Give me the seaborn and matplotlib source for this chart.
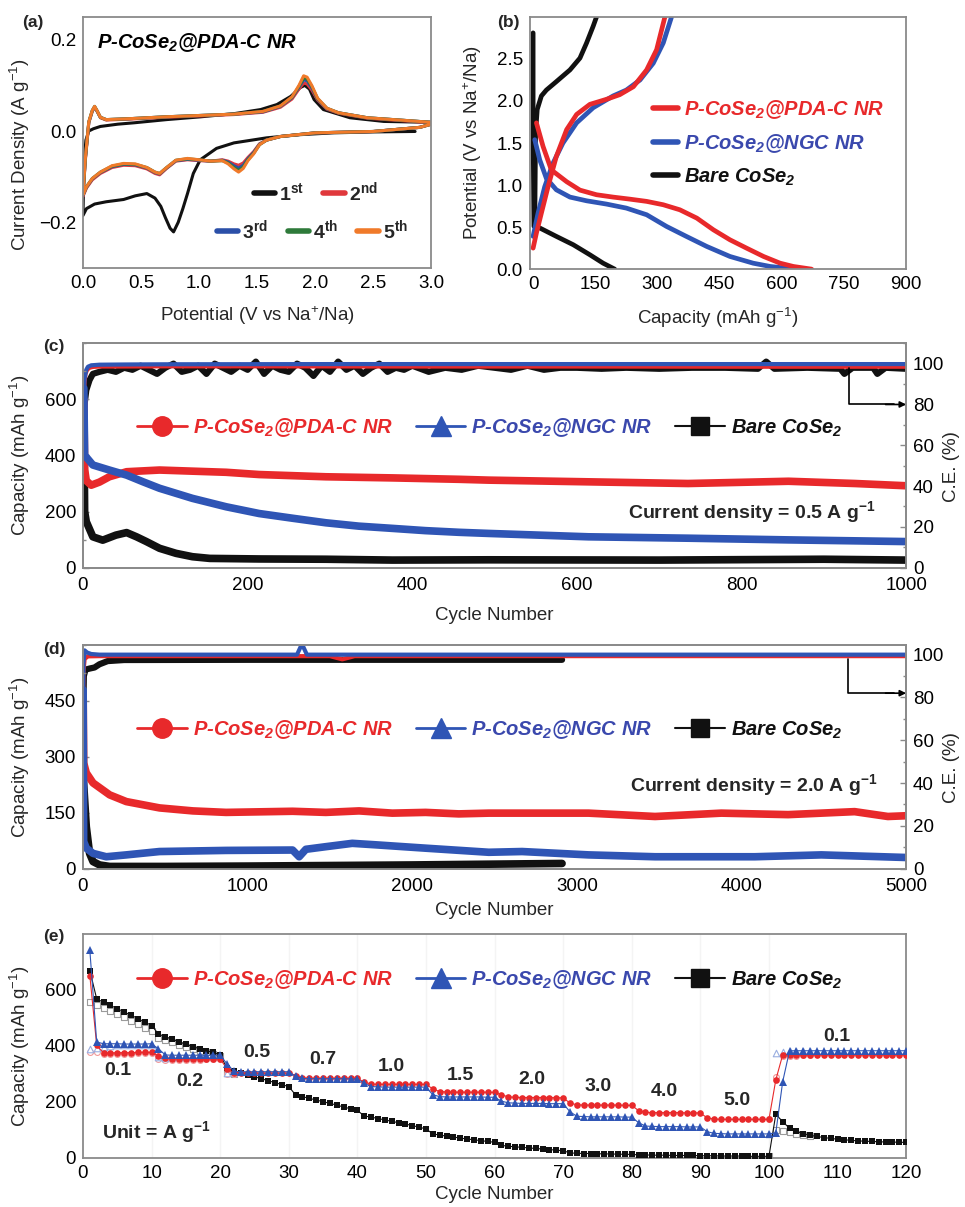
import matplotlib
matplotlib.use('Agg')
import numpy as np
import pandas as pd
import matplotlib.pyplot as plt
import seaborn as sns
from matplotlib.lines import Line2D
from matplotlib.ticker import MultipleLocator

# ---------------- data ----------------
# (a) CV curves, P-CoSe2@PDA-C NR
cv1_E = [2.86, 2.5, 2.16, 1.87, 1.58, 1.3, 1.15, 1.01, 0.95, 0.90,
         0.86, 0.82, 0.78, 0.75, 0.71, 0.67, 0.62, 0.55, 0.45, 0.35,
         0.2, 0.1, 0.03, 0.0, 0.005, 0.015, 0.025, 0.05, 0.09, 0.15,
         0.3, 0.44, 0.72, 1.01, 1.3, 1.53, 1.67, 1.79, 1.87, 1.91,
         1.95, 1.99, 2.07, 2.3, 2.59, 3.0]
cv1_I = [-0.001, -0.002, -0.004, -0.008, -0.015, -0.026, -0.038, -0.063, -0.093, -0.137,
         -0.17, -0.2, -0.221, -0.213, -0.19, -0.165, -0.147, -0.137, -0.142, -0.15,
         -0.155, -0.16, -0.17, -0.185, -0.115, -0.05, -0.02, 0.0, 0.005, 0.01,
         0.015, 0.018, 0.025, 0.031, 0.038, 0.047, 0.058, 0.076, 0.095, 0.1,
         0.092, 0.069, 0.047, 0.029, 0.021, 0.019]
cv_E = [3.0, 2.9, 2.5, 2.0, 1.7, 1.58, 1.52, 1.47, 1.42, 1.38,
        1.34, 1.30, 1.25, 1.2, 1.1, 1.0, 0.9, 0.8, 0.72, 0.66,
        0.62, 0.55, 0.45, 0.35, 0.25, 0.15, 0.08, 0.03, 0.0, 0.02,
        0.05, 0.08, 0.1, 0.12, 0.15, 0.2, 0.4, 0.7, 1.0, 1.3,
        1.55, 1.7, 1.8, 1.86, 1.9, 1.93, 1.97, 2.02, 2.1, 2.2,
        2.45, 2.73, 3.0]
cv2_I = [0.015, 0.008, -0.001, -0.004, -0.012, -0.02, -0.028, -0.045, -0.058, -0.07,
         -0.075, -0.072, -0.066, -0.063, -0.066, -0.065, -0.063, -0.066, -0.082, -0.096,
         -0.093, -0.083, -0.076, -0.075, -0.08, -0.093, -0.107, -0.125, -0.143, -0.065,
         0.018, 0.043, 0.052, 0.044, 0.029, 0.024, 0.026, 0.03, 0.033, 0.036,
         0.041, 0.052, 0.07, 0.092, 0.105, 0.103, 0.09, 0.068, 0.048, 0.039,
         0.028, 0.023, 0.018]
cv3_I = [0.015, 0.008, -0.001, -0.004, -0.012, -0.02, -0.029, -0.047, -0.061, -0.075,
         -0.081, -0.076, -0.068, -0.064, -0.066, -0.064, -0.062, -0.065, -0.081, -0.094,
         -0.091, -0.081, -0.074, -0.073, -0.078, -0.091, -0.105, -0.123, -0.141, -0.062,
         0.019, 0.044, 0.053, 0.044, 0.03, 0.025, 0.027, 0.031, 0.034, 0.037,
         0.042, 0.054, 0.073, 0.096, 0.112, 0.11, 0.095, 0.07, 0.049, 0.04,
         0.029, 0.024, 0.019]
cv4_I = [0.015, 0.008, -0.001, -0.004, -0.012, -0.02, -0.03, -0.049, -0.063, -0.079,
         -0.086, -0.08, -0.07, -0.065, -0.066, -0.063, -0.061, -0.064, -0.08, -0.093,
         -0.09, -0.08, -0.073, -0.072, -0.077, -0.09, -0.104, -0.122, -0.14, -0.061,
         0.02, 0.045, 0.054, 0.045, 0.03, 0.025, 0.027, 0.031, 0.034, 0.037,
         0.043, 0.055, 0.074, 0.098, 0.116, 0.114, 0.098, 0.071, 0.05, 0.04,
         0.029, 0.024, 0.019]
cv5_I = [0.015, 0.008, -0.001, -0.004, -0.012, -0.02, -0.03, -0.05, -0.065, -0.082,
         -0.09, -0.083, -0.072, -0.065, -0.066, -0.063, -0.06, -0.064, -0.08, -0.093,
         -0.09, -0.08, -0.072, -0.071, -0.076, -0.09, -0.104, -0.122, -0.14, -0.06,
         0.02, 0.045, 0.054, 0.045, 0.03, 0.025, 0.027, 0.031, 0.034, 0.037,
         0.043, 0.055, 0.075, 0.1, 0.121, 0.118, 0.1, 0.072, 0.05, 0.04,
         0.029, 0.024, 0.019]

# (b) charge/discharge profiles
pda_dis_cap = [8, 24, 44, 81, 113, 153, 193, 233, 274, 314, 354, 395, 435, 475, 515, 556, 596, 628, 672]
pda_dis_V = [1.74, 1.46, 1.18, 1.04, 0.94, 0.885, 0.857, 0.833, 0.806, 0.766, 0.706, 0.607, 0.468, 0.349, 0.25, 0.151, 0.071, 0.032, 0.0]
pda_chg_cap = [0, 8, 20, 36, 56, 81, 105, 137, 177, 209, 242, 274, 298, 318]
pda_chg_V = [0.25, 0.43, 0.667, 0.98, 1.34, 1.66, 1.84, 1.96, 2.02, 2.075, 2.17, 2.37, 2.61, 3.0]
ngc_dis_cap = [4, 16, 32, 56, 89, 129, 177, 225, 274, 322, 370, 419, 475, 531, 572, 635]
ngc_dis_V = [1.54, 1.30, 1.08, 0.944, 0.857, 0.813, 0.774, 0.726, 0.647, 0.508, 0.389, 0.27, 0.151, 0.071, 0.032, 0.0]
ngc_chg_cap = [0, 12, 28, 48, 72, 105, 145, 193, 225, 258, 290, 314, 334]
ngc_chg_V = [0.39, 0.667, 0.98, 1.26, 1.5, 1.74, 1.92, 2.06, 2.13, 2.25, 2.45, 2.69, 3.0]
bare_dis_cap = [0, 0, 2, 16, 56, 97, 137, 169, 197]
bare_dis_V = [2.81, 1.62, 0.51, 0.49, 0.39, 0.29, 0.171, 0.071, 0.0]
bare_chg_cap = [4, 6, 10, 20, 32, 56, 89, 113, 129, 145, 153]
bare_chg_V = [0.51, 1.62, 1.90, 2.06, 2.13, 2.23, 2.37, 2.51, 2.69, 2.89, 3.0]

# (c) cycling at 0.5 A g-1
pda_cap_c_n = [1, 2, 4, 10, 20, 32, 53, 93, 133, 174, 214, 295, 376, 457, 493, 614, 735, 857, 938, 1000]
pda_cap_c = [600, 350, 310, 294, 305, 324, 342, 348, 344, 340, 332, 324, 320, 315, 312, 306, 300, 308, 300, 292]
ngc_cap_c_n = [1, 2, 12, 32, 53, 73, 93, 133, 174, 214, 255, 295, 335, 376, 416, 457, 493, 614, 735, 857, 1000]
ngc_cap_c = [640, 401, 366, 348, 330, 306, 283, 247, 217, 193, 176, 160, 148, 140, 132, 126, 122, 110, 105, 99, 93]
bare_cap_c_n = [1, 2, 4, 12, 24, 40, 53, 65, 77, 93, 113, 133, 154, 214, 295, 376, 493, 700, 900, 1000]
bare_cap_c = [560, 200, 164, 110, 98, 116, 125, 110, 93, 69, 51, 39, 33, 31, 30, 27, 28, 27, 30, 27]
pda_ce_c_n = [1, 2, 3, 5, 8, 12, 20, 40, 100, 200, 400, 600, 800, 1000]
pda_ce_c = [82, 91, 95, 97, 98, 98.4, 98.6, 98.6, 98.7, 98.7, 98.6, 98.6, 98.5, 98.5]
ngc_ce_c_n = [1, 2, 4, 6, 10, 20, 50, 100, 300, 600, 1000]
ngc_ce_c = [85, 93, 97, 98.5, 99.2, 99.5, 99.6, 99.7, 99.8, 99.8, 99.8]
bare_ce_c_n = [1, 4, 8, 12, 20, 30, 40, 50, 60, 70, 80, 90, 100, 110, 120, 130, 140, 150, 160, 170,
               180, 190, 200, 210, 220, 230, 240, 250, 260, 270, 280, 290, 300, 310, 320, 330, 340, 350, 360, 370,
               380, 390, 400, 420, 440, 460, 480, 500, 520, 540, 560, 580, 600, 630, 660, 700, 740, 780, 820, 830,
               840, 880, 920, 925, 935, 960, 965, 975, 1000]
bare_ce_c = [77, 87, 92, 95, 96, 97, 96, 98, 97, 99, 97, 95, 98, 100, 96, 97, 99, 95, 100, 98,
             96, 99, 97, 101, 95, 99, 97, 96, 100, 98, 94, 99, 96, 101, 97, 99, 95, 98, 100, 96,
             98, 97, 99, 96, 98, 97, 99, 98, 97, 99, 97, 98, 98, 97.5, 98, 97.5, 98, 98, 97.5, 101,
             97.5, 98, 97.5, 95, 98, 98, 95, 98, 97.5]

# (d) cycling at 2.0 A g-1
pda_cap_d_n = [1, 4, 20, 61, 162, 263, 465, 667, 869, 1273, 1475, 1677, 1879, 2081, 2283, 2465,
               3071, 3475, 3877, 4283, 4687, 4889, 5000]
pda_cap_d = [470, 284, 257, 230, 198, 180, 163, 155, 151, 154, 151, 155, 149, 151, 147, 149,
             149, 140, 149, 145, 153, 140, 142]
ngc_cap_d_n = [1, 4, 20, 61, 141, 263, 465, 869, 1273, 1313, 1354, 1475, 1636, 1778, 2081, 2465,
               2667, 3071, 3475, 4081, 4485, 5000]
ngc_cap_d = [480, 73, 55, 41, 32, 37, 46, 49, 50, 32, 52, 59, 68, 64, 55, 44,
             46, 37, 32, 32, 37, 30]
bare_cap_d_n = [1, 2, 20, 40, 61, 101, 162, 500, 1000, 2000, 2910]
bare_cap_d = [420, 243, 113, 41, 19, 10, 6, 6, 7, 10, 14]
pda_ce_d_n = [1, 3, 10, 30, 100, 1500, 1575, 1650, 5000]
pda_ce_d = [75, 92, 98, 99.2, 99.3, 99.3, 97.8, 99.3, 99.3]
ngc_ce_d_n = [1, 3, 10, 25, 50, 100, 1300, 1330, 1360, 5000]
ngc_ce_d = [68, 96, 102, 101, 100.3, 100, 100, 105, 100, 100]
bare_ce_d_n = [1, 5, 15, 40, 70, 100, 150, 250, 1000, 2000, 2910]
bare_ce_d = [70, 90, 93, 93.5, 94, 95.5, 97, 97.5, 97.6, 97.6, 97.6]

# (e) rate capability
cycles_e = list(range(1, 121))
pda_rate = [651, 402, 375, 375, 376, 376, 376, 377, 377, 377,
            365, 356, 354, 354, 354, 354, 354, 354, 354, 354,
            318, 305, 304, 304, 303, 303, 303, 303, 303, 303,
            294, 286, 285, 285, 285, 285, 285, 285, 285, 284,
            271, 264, 263, 263, 263, 263, 263, 263, 263, 263,
            247, 237, 236, 235, 235, 235, 235, 235, 235, 234,
            226, 218, 217, 216, 216, 216, 216, 216, 215, 215,
            196, 190, 189, 189, 189, 189, 189, 189, 188, 188,
            169, 163, 162, 162, 162, 162, 162, 161, 161, 161,
            143, 139, 138, 138, 138, 138, 138, 138, 138, 138,
            279, 368, 368, 368, 368, 368, 368, 368, 368, 368,
            368, 368, 368, 368, 368, 368, 368, 368, 368, 368]
ngc_rate = [741, 414, 408, 408, 408, 407, 407, 407, 407, 408,
            390, 368, 367, 367, 367, 367, 367, 367, 367, 367,
            336, 310, 308, 308, 308, 308, 308, 308, 308, 308,
            292, 284, 283, 283, 283, 283, 283, 283, 282, 282,
            267, 255, 254, 253, 253, 253, 253, 253, 253, 253,
            226, 219, 218, 218, 218, 218, 218, 218, 217, 217,
            203, 197, 196, 195, 195, 195, 195, 194, 194, 194,
            165, 149, 148, 147, 147, 147, 147, 147, 146, 146,
            126, 114, 113, 112, 112, 112, 112, 111, 111, 111,
            94, 88, 87, 86, 86, 86, 86, 86, 86, 86,
            90, 272, 383, 383, 383, 383, 383, 383, 383, 383,
            383, 383, 383, 383, 383, 383, 383, 383, 383, 383]
bare_rate = [669, 568, 556, 545, 533, 522, 510, 498, 486, 473,
             443, 433, 424, 415, 406, 398, 390, 383, 377, 368,
             320, 312, 304, 297, 290, 283, 276, 269, 262, 255,
             225, 219, 213, 207, 201, 195, 189, 182, 176, 170,
             150, 146, 141, 136, 131, 126, 121, 116, 110, 104,
             86, 82, 78, 75, 71, 68, 65, 62, 59, 56,
             45, 42, 40, 38, 36, 34, 32, 30, 28, 26,
             18, 17, 16, 16, 15, 15, 14, 14, 13, 13,
             11, 11, 10, 10, 10, 9, 9, 9, 9, 8,
             8, 8, 7, 7, 7, 7, 6, 6, 6, 6,
             156, 130, 106, 95, 87, 81, 77, 73, 70, 67,
             65, 63, 61, 60, 59, 58, 57, 57, 56, 56]
# charge capacities (open symbols), only where they show
chg_n = [1, 2, 3, 4, 5, 6, 7, 8, 9, 10, 11, 12, 13, 14, 15, 16, 17, 18, 19, 20, 21, 22,
         100, 101, 102, 103, 104, 105, 106]
pda_chg_e = [378, 380, 371, 372, 372, 373, 373, 374, 374, 374, 352, 350, 350, 351, 351, 351, 351, 352, 352, 352, 300, 301,
             138, 290, 365, 366, 366, 367, 367]
ngc_chg_e = [388, 392, 395, 400, 402, 403, 404, 404, 404, 404, 360, 358, 360, 362, 362, 363, 363, 363, 363, 363, 305, 306,
             86, 375, 380, 382, 382, 382, 383]
bare_chg_e = [556, 548, 537, 525, 514, 502, 490, 478, 466, 455, 430, 421, 413, 405, 397, 390, 383, 377, 371, 366, 305, 300,
              6, 100, 98, 92, 86, 82, 79]
rate_labels = ['0.1', '0.2', '0.5', '0.7', '1.0', '1.5', '2.0', '3.0', '4.0', '5.0', '0.1']

names = ['P-CoSe$_2$@PDA-C NR', 'P-CoSe$_2$@NGC NR', 'Bare CoSe$_2$']
cv_labels = ['1$^{st}$', '2$^{nd}$', '3$^{rd}$', '4$^{th}$', '5$^{th}$']

# ---------------- style ----------------
sns.set_theme(style='white')
plt.rcParams['font.family'] = ['Liberation Sans', 'DejaVu Sans']
plt.rcParams['mathtext.default'] = 'regular'

RED = '#e8292b'
BLUE = '#2f55b5'
BLUE_TXT = '#3a48ad'
BLACK = '#111111'
GREY = '#8a8a8a'
cv_colors = ['#111111', '#e0383c', '#2b4fa8', '#2e7a3a', '#f07a2a']
FS = 13.5
LEG = dict(weight='bold', style='italic', size=14.5)


def style_ax(ax, xpad=5):
    for s in ax.spines.values():
        s.set_color(GREY)
        s.set_linewidth(1.3)
    ax.set_facecolor('white')
    ax.tick_params(which='both', direction='in', color=GREY, labelsize=FS,
                   labelcolor='black', pad=5)
    ax.tick_params(axis='x', pad=xpad)
    ax.tick_params(which='major', length=4, width=1)
    ax.tick_params(which='minor', length=2.5, width=1)


def line(ax, x, y, color, lw, **kw):
    sns.lineplot(x=x, y=y, ax=ax, color=color, linewidth=lw, estimator=None,
                 sort=False, legend=False, **kw)


fig = plt.figure(figsize=(9.65, 12.07), dpi=100)
fig.patch.set_facecolor('white')

# ---------------- (a) ----------------
axa = fig.add_axes([0.086, 0.778, 0.361, 0.208])
style_ax(axa)
line(axa, cv1_E, cv1_I, cv_colors[0], 2.2)
for ii, cur in enumerate([cv2_I, cv3_I, cv4_I, cv5_I]):
    line(axa, cv_E, cur, cv_colors[ii + 1], 2.2)
axa.set_xlim(0, 3.0)
axa.set_ylim(-0.3, 0.25)
axa.xaxis.set_major_locator(MultipleLocator(0.5))
axa.xaxis.set_minor_locator(MultipleLocator(0.25))
axa.set_yticks([-0.2, 0.0, 0.2])
axa.yaxis.set_minor_locator(MultipleLocator(0.1))
axa.set_xlabel('Potential (V vs Na$^{+}$/Na)', fontsize=FS)
axa.set_ylabel('Current Density (A g$^{-1}$)', fontsize=FS)
axa.xaxis.set_label_coords(0.5, -0.143)
axa.yaxis.set_label_coords(-0.147, 0.45)
axa.text(0.04, 0.896, 'P-CoSe$_2$@PDA-C NR', transform=axa.transAxes, va='center',
         fontsize=14.5, fontweight='bold', fontstyle='italic', color='black')
hd = [Line2D([0], [0], color=c, lw=4) for c in cv_colors]
lg1 = axa.legend(hd[:2], cv_labels[:2], ncol=2, loc='center left', bbox_to_anchor=(0.49, 0.303),
                 frameon=False, prop=dict(weight='bold', size=14), handlelength=1.1,
                 handletextpad=0.2, columnspacing=1.0, borderpad=0, borderaxespad=0)
axa.add_artist(lg1)
axa.legend(hd[2:], cv_labels[2:], ncol=3, loc='center left', bbox_to_anchor=(0.385, 0.151),
           frameon=False, prop=dict(weight='bold', size=14), handlelength=1.1,
           handletextpad=0.2, columnspacing=1.0, borderpad=0, borderaxespad=0)

# ---------------- (b) ----------------
axb = fig.add_axes([0.549, 0.777, 0.390, 0.209])
style_ax(axb)
line(axb, bare_dis_cap, bare_dis_V, BLACK, 3.4)
line(axb, bare_chg_cap, bare_chg_V, BLACK, 3.4)
line(axb, ngc_dis_cap, ngc_dis_V, BLUE, 3.4)
line(axb, ngc_chg_cap, ngc_chg_V, BLUE, 3.4)
line(axb, pda_dis_cap, pda_dis_V, RED, 3.4)
line(axb, pda_chg_cap, pda_chg_V, RED, 3.4)
axb.set_xlim(-8, 900)
axb.set_ylim(0, 3.0)
axb.set_xticks(np.arange(0, 901, 150))
axb.xaxis.set_minor_locator(MultipleLocator(75))
axb.set_yticks(np.arange(0, 2.51, 0.5))
axb.yaxis.set_minor_locator(MultipleLocator(0.25))
axb.set_xlabel('Capacity (mAh g$^{-1}$)', fontsize=FS)
axb.set_ylabel('Potential (V vs Na$^{+}$/Na)', fontsize=FS)
axb.xaxis.set_label_coords(0.5, -0.147)
axb.yaxis.set_label_coords(-0.122, 0.5)
hb = [Line2D([0], [0], color=c, lw=4) for c in [RED, BLUE, BLACK]]
lgb = axb.legend(hb, names, loc='center left', bbox_to_anchor=(0.327, 0.5), frameon=False,
                 prop=LEG, handlelength=1.25, handletextpad=0.3, labelspacing=0.55,
                 borderpad=0, borderaxespad=0)
for t, c in zip(lgb.get_texts(), [RED, BLUE_TXT, BLACK]):
    t.set_color(c)


def big_legend(ax, y):
    hs = [Line2D([0], [0], color=RED, lw=2, marker='o', markersize=14),
          Line2D([0], [0], color=BLUE, lw=2, marker='^', markersize=14),
          Line2D([0], [0], color=BLACK, lw=1.5, marker='s', markersize=13)]
    lg = ax.legend(hs, names, ncol=3, loc='center left', bbox_to_anchor=(0.066, y),
                   frameon=False, prop=LEG, handlelength=2.45, handletextpad=0.3,
                   columnspacing=1.15, borderpad=0, borderaxespad=0)
    for t, c in zip(lg.get_texts(), [RED, BLUE_TXT, BLACK]):
        t.set_color(c)
    return lg


def cycling_panel(rect, xmax, xmaj, xmin, ymax, yticks, ymin_loc, ce_top, caps, ces, lab_y, arrow_x, arrow_y):
    ax = fig.add_axes(rect)
    style_ax(ax, xpad=7)
    ax2 = ax.twinx()
    style_ax(ax2, xpad=7)
    (bn, bv), (pn, pv), (nn, nv) = ces
    line(ax2, bn, bv, BLACK, 4.5)
    line(ax2, pn, pv, RED, 3)
    line(ax2, nn, nv, BLUE, 3)
    (bn, bv), (pn, pv), (nn, nv) = caps
    line(ax, bn, bv, BLACK, 5.5)
    line(ax, pn, pv, RED, 5.5)
    line(ax, nn, nv, BLUE, 5.5)
    ax.set_xlim(0, xmax)
    ax.set_ylim(0, ymax)
    ax.xaxis.set_major_locator(MultipleLocator(xmaj))
    ax.xaxis.set_minor_locator(MultipleLocator(xmin))
    ax.set_yticks(yticks)
    ax.yaxis.set_minor_locator(MultipleLocator(ymin_loc))
    ax2.set_ylim(0, ce_top)
    ax2.set_yticks(np.arange(0, 101, 20))
    ax2.yaxis.set_minor_locator(MultipleLocator(10))
    ax2.grid(False)
    ax.set_xlabel('Cycle Number', fontsize=FS)
    ax.set_ylabel('Capacity (mAh g$^{-1}$)', fontsize=FS)
    ax2.set_ylabel('C.E. (%)', fontsize=FS)
    ax.xaxis.set_label_coords(0.5, lab_y)
    ax.yaxis.set_label_coords(-0.062, 0.5)
    ax2.yaxis.set_label_coords(1.045, 0.45)
    ax2.plot([arrow_x, arrow_x, xmax * 0.985], [98, arrow_y, arrow_y], color='black', lw=1.2)
    ax2.annotate('', xy=(xmax, arrow_y), xytext=(xmax * 0.975, arrow_y),
                 arrowprops=dict(arrowstyle='-|>', color='black', lw=1.2, mutation_scale=9,
                                 shrinkA=0, shrinkB=0))
    ax2.set_zorder(1)
    ax.set_zorder(2)
    ax.patch.set_visible(False)
    ax2.patch.set_facecolor('white')
    return ax, ax2


# ---------------- (c) ----------------
axc, axc2 = cycling_panel([0.086, 0.5297, 0.853, 0.1859], 1000, 200, 100, 800, [0, 200, 400, 600], 100, 110,
                          [(bare_cap_c_n, bare_cap_c), (pda_cap_c_n, pda_cap_c), (ngc_cap_c_n, ngc_cap_c)],
                          [(bare_ce_c_n, bare_ce_c), (pda_ce_c_n, pda_ce_c), (ngc_ce_c_n, ngc_ce_c)],
                          -0.176, 930, 80)
big_legend(axc, 0.623)
axc.text(0.963, 0.248, 'Current density = 0.5 A g$^{-1}$', transform=axc.transAxes, ha='right',
         va='center', fontsize=14, fontweight='bold')

# ---------------- (d) ----------------
axd, axd2 = cycling_panel([0.086, 0.2803, 0.853, 0.1853], 5000, 1000, 500, 600, [0, 150, 300, 450], 75, 104.5,
                          [(bare_cap_d_n, bare_cap_d), (pda_cap_d_n, pda_cap_d), (ngc_cap_d_n, ngc_cap_d)],
                          [(bare_ce_d_n, bare_ce_d), (pda_ce_d_n, pda_ce_d), (ngc_ce_d_n, ngc_ce_d)],
                          -0.149, 4648, 82)
big_legend(axd, 0.62)
axd.text(0.966, 0.374, 'Current density = 2.0 A g$^{-1}$', transform=axd.transAxes, ha='right',
         va='center', fontsize=14, fontweight='bold')

# ---------------- (e) ----------------
axe = fig.add_axes([0.086, 0.0406, 0.853, 0.1856])
style_ax(axe)
for xg in range(10, 101, 10):
    axe.axvline(xg, color='#f4f4f4', lw=1, zorder=0)
sns.scatterplot(x=chg_n, y=bare_chg_e, ax=axe, marker='s', s=16, facecolor='white',
                edgecolor='#9a9a9a', linewidth=0.8, zorder=2)
sns.scatterplot(x=chg_n, y=pda_chg_e, ax=axe, marker='o', s=18, facecolor='white',
                edgecolor='#f29a9a', linewidth=0.8, zorder=2)
sns.scatterplot(x=chg_n, y=ngc_chg_e, ax=axe, marker='^', s=22, facecolor='white',
                edgecolor='#9aaee0', linewidth=0.8, zorder=2)
line(axe, cycles_e, bare_rate, BLACK, 0.8, marker='s', markersize=4.2, markeredgewidth=0, zorder=3)
line(axe, cycles_e, pda_rate, RED, 0.8, marker='o', markersize=4.8, markeredgewidth=0, zorder=4)
line(axe, cycles_e, ngc_rate, BLUE, 0.8, marker='^', markersize=5.2, markeredgewidth=0, zorder=5)
axe.set_xlim(0, 120)
axe.set_ylim(0, 800)
axe.xaxis.set_major_locator(MultipleLocator(10))
axe.xaxis.set_minor_locator(MultipleLocator(5))
axe.set_yticks([0, 200, 400, 600])
axe.yaxis.set_minor_locator(MultipleLocator(100))
axe.set_xlabel('Cycle Number', fontsize=FS)
axe.set_ylabel('Capacity (mAh g$^{-1}$)', fontsize=FS)
axe.xaxis.set_label_coords(0.5, -0.125)
axe.yaxis.set_label_coords(-0.062, 0.5)
big_legend(axe, 0.795)
rate_pos = [(5.1, 314), (15.5, 272), (25.3, 376), (35, 350), (45, 326), (55, 296),
            (65.4, 279), (75.1, 257), (84.8, 239), (95.3, 207), (109.9, 433)]
for (px, py), lab in zip(rate_pos, rate_labels):
    axe.text(px, py, lab, ha='center', va='center', fontsize=14, fontweight='bold')
axe.text(0.023, 0.117, 'Unit = A g$^{-1}$', transform=axe.transAxes, ha='left', va='center',
         fontsize=14, fontweight='bold')

# panel letters
for x, y, lab in [(0.023, 0.981, '(a)'), (0.515, 0.981, '(b)'), (0.045, 0.713, '(c)'),
                  (0.045, 0.4615, '(d)'), (0.045, 0.2237, '(e)')]:
    fig.text(x, y, lab, fontsize=12.5, fontweight='bold', va='center')

fig.savefig('out.png', dpi=100, facecolor='white')
